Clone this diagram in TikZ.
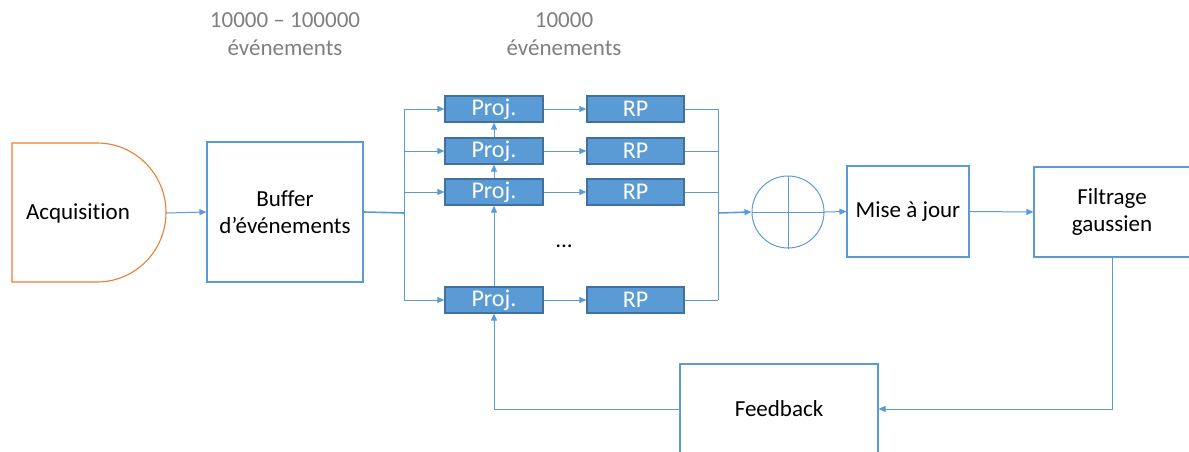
\documentclass[tikz,border=0pt]{standalone}
\usepackage{fontspec}
\setmainfont[Ligatures=NoCommon]{Carlito}
\usetikzlibrary{arrows.meta,calc}
\definecolor{lblue}{HTML}{5B9BD5}
\definecolor{dblue}{HTML}{41719C}
\definecolor{orng}{HTML}{ED7D31}
\definecolor{gtext}{HTML}{7F7F7F}
\begin{document}
\begin{tikzpicture}[x=1pt,y=-1pt,
  every node/.style={font=\fontsize{23}{27.5}\selectfont, align=center, inner sep=0pt},
  wbox/.style={draw=lblue, line width=1.1pt, fill=white, minimum width=#1},
  pbox/.style={draw=dblue, line width=1.2pt, fill=lblue, text=white, minimum width=98pt, minimum height=26pt, font=\fontsize{24}{27}\selectfont},
  conn/.style={draw=lblue, line width=1pt},
  arr/.style={conn, -{Triangle[length=7pt,width=6pt]}},
  toplab/.style={text=gtext}]
\useasboundingbox (0,0) rectangle (1189,452);
\clip (0,0) rectangle (1189,452);
% Acquisition
\draw[orng, line width=1.1pt] (12,143) -- (97,143)
  arc[start angle=90, end angle=-90, x radius=69pt, y radius=69.5pt] -- (12,282) -- cycle;
\node (acq) at (78,213) {Acquisition};
\coordinate (acqE) at (166,213);
% Buffer
\node[wbox=156pt, minimum height=140pt] (buf) at (285,212) {Buffer\\d’événements};
% top labels
\node[toplab] (lab1) at (285,34) {10000 – 100000\\événements};
\node[toplab] (lab2) at (564,34) {10000\\événements};
% Proj / RP
\node[pbox] (p1) at (494,109) {Proj.};
\node[pbox] (p2) at (494,151) {Proj.};
\node[pbox] (p3) at (494,192) {Proj.};
\node[pbox] (p4) at (494,300) {Proj.};
\node[pbox, minimum width=97pt] (r1) at (635.5,109) {RP};
\node[pbox, minimum width=97pt] (r2) at (635.5,151) {RP};
\node[pbox, minimum width=97pt] (r3) at (635.5,192) {RP};
\node[pbox, minimum width=97pt] (r4) at (635.5,300) {RP};
\node (dots) at (564,246) {...};
\coordinate (bL) at (404,213);
\coordinate (bR) at (718,213);
% sum
\node[draw=lblue, line width=1pt, circle, minimum size=72pt] (sum) at (788,212) {};
\draw[conn] (sum.north) -- (sum.south) (sum.west) -- (sum.east);
% Mise a jour, Filtrage, Feedback
\node[wbox=122pt, minimum height=91pt] (mise) at (908,211.5) {Mise à jour};
\node[wbox=156pt, minimum height=90pt] (filt) at (1112,212) {Filtrage\\gaussien};
\node[wbox=198pt, minimum height=90pt] (fb) at (779,409) {Feedback};
% connectors
\draw[arr] (acqE) -- (buf.west);
\draw[conn, line width=1.6pt] (buf.east) -- (bL);
\draw[conn] (bL |- p1) -- (bL |- p4);
\foreach \i in {1,2,3,4} {
  \draw[arr] (bL |- p\i) -- (p\i.west);
  \draw[arr] (p\i.east) -- (r\i.west);
  \draw[conn] (r\i.east) -- (bR |- r\i);
}
\draw[conn] (bR |- r1) -- (bR |- r4);
\draw[arr, line width=1.6pt] (bR) -- (sum.west);
\draw[arr] (p2.north) -- (p1.south);
\draw[arr] (p3.north) -- (p2.south);
\draw[arr] (p4.north) -- (p3.south);
\draw[arr] (sum.east) -- (mise.west);
\draw[arr] (mise.east) -- (filt.west);
\draw[arr] (filt.south) -- (filt.south |- fb.east) -- (fb.east);
\draw[arr] (fb.west) -- (p4.south |- fb.west) -- (p4.south);
\end{tikzpicture}
\end{document}
